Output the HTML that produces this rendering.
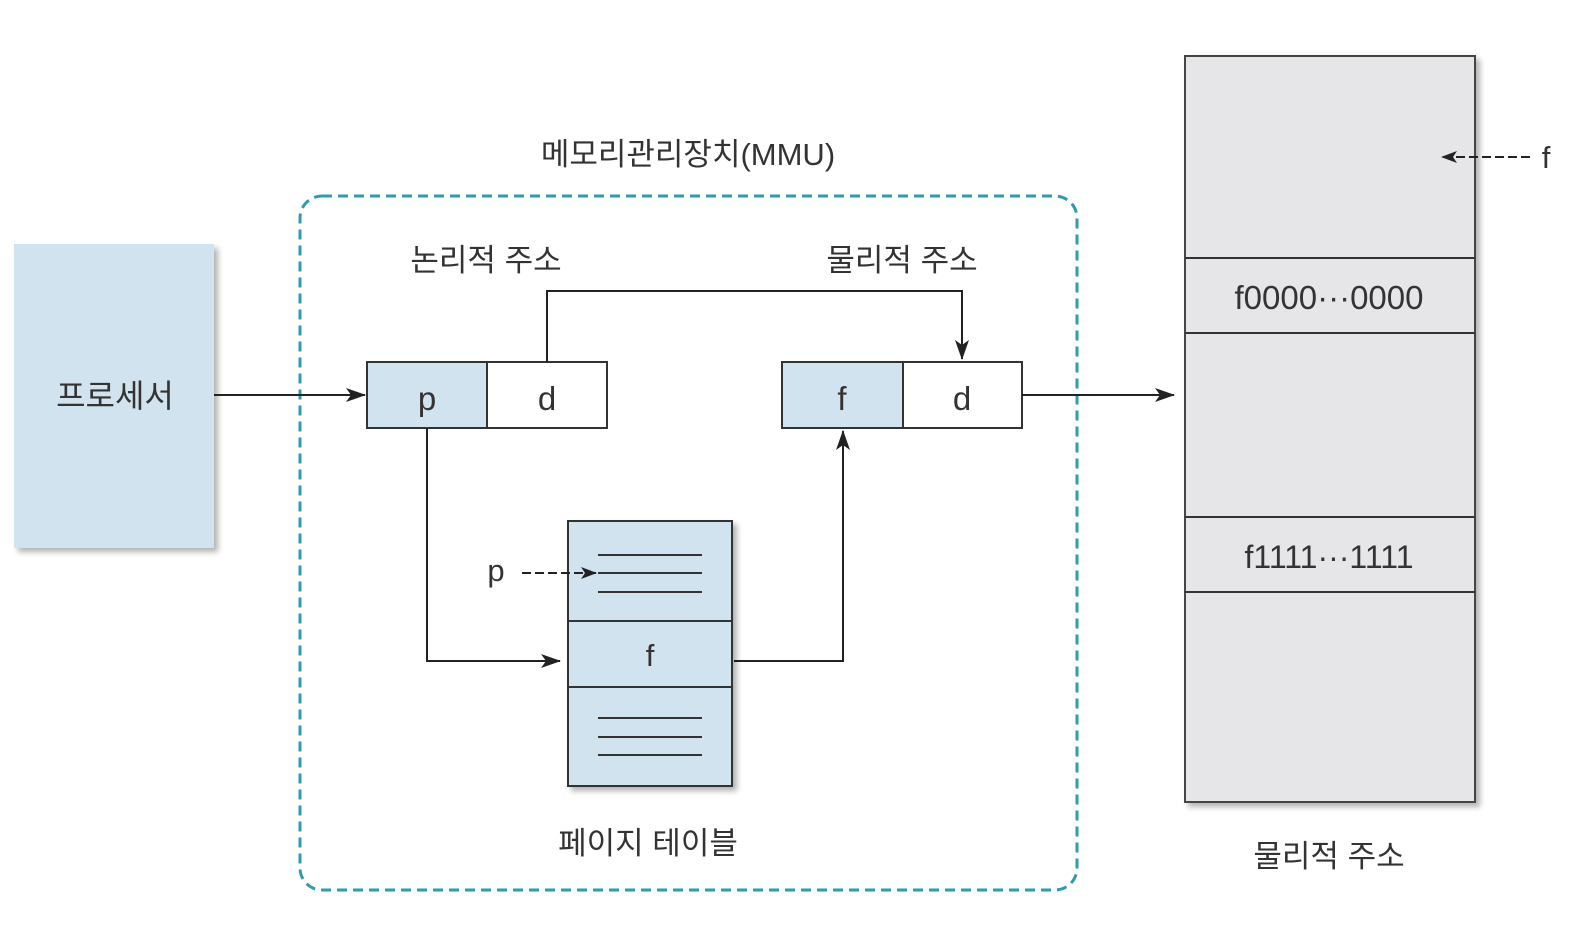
<!DOCTYPE html>
<html><head><meta charset="utf-8"><style>
html,body{margin:0;padding:0;background:#fff;width:1584px;height:930px;overflow:hidden}
text{font-family:"Liberation Sans","Noto Sans CJK KR",sans-serif;fill:#333}
</style></head><body>
<svg width="1584" height="930" viewBox="0 0 1584 930" xmlns="http://www.w3.org/2000/svg">
<defs>
<marker id="a" markerWidth="20" markerHeight="14" refX="19" refY="7" orient="auto" markerUnits="userSpaceOnUse"><path d="M0,0 L20,7 L0,14 L5,7 Z" fill="#222"/></marker>
<marker id="b" markerWidth="16" markerHeight="12" refX="15" refY="6" orient="auto" markerUnits="userSpaceOnUse"><path d="M0,0 L16,6 L0,12 L4,6 Z" fill="#222"/></marker>
<filter id="s" x="-10%" y="-10%" width="130%" height="130%"><feDropShadow dx="4" dy="4" stdDeviation="3" flood-color="#000" flood-opacity="0.3"/></filter>
</defs>
<!-- processor -->
<rect x="14" y="244" width="200" height="304" fill="#d1e3ee" filter="url(#s)"/>
<text x="115" y="407" font-size="32" text-anchor="middle">프로세서</text>
<!-- MMU -->
<text x="688" y="165" font-size="31" text-anchor="middle">메모리관리장치(MMU)</text>
<rect x="300" y="196" width="777" height="694" rx="22" fill="none" stroke="#2f9bb0" stroke-width="3" stroke-dasharray="10,6"/>
<text x="486" y="271" font-size="31" text-anchor="middle">논리적 주소</text>
<text x="902" y="271" font-size="31" text-anchor="middle">물리적 주소</text>
<!-- logical -->
<rect x="367" y="362" width="120" height="66" fill="#d1e3ee" stroke="#333" stroke-width="2"/>
<rect x="487" y="362" width="120" height="66" fill="#fff" stroke="#333" stroke-width="2"/>
<text x="427" y="410" font-size="33" text-anchor="middle">p</text>
<text x="547" y="410" font-size="33" text-anchor="middle">d</text>
<!-- physical addr -->
<rect x="782" y="362" width="121" height="66" fill="#d1e3ee" stroke="#333" stroke-width="2"/>
<rect x="903" y="362" width="119" height="66" fill="#fff" stroke="#333" stroke-width="2"/>
<text x="842" y="410" font-size="33" text-anchor="middle">f</text>
<text x="962" y="410" font-size="33" text-anchor="middle">d</text>
<!-- arrows -->
<line x1="214" y1="395" x2="365" y2="395" stroke="#222" stroke-width="2" marker-end="url(#a)"/>
<polyline points="547,362 547,291 962,291 962,359" fill="none" stroke="#222" stroke-width="2" marker-end="url(#a)"/>
<polyline points="427,428 427,661 560,661" fill="none" stroke="#222" stroke-width="2" marker-end="url(#a)"/>
<polyline points="734,661 843,661 843,431" fill="none" stroke="#222" stroke-width="2" marker-end="url(#a)"/>
<line x1="1022" y1="395" x2="1174" y2="395" stroke="#222" stroke-width="2" marker-end="url(#a)"/>
<!-- page table -->
<rect x="568" y="521" width="164" height="265" fill="#d1e3ee" stroke="#333" stroke-width="2" filter="url(#s)"/>
<line x1="568" y1="621" x2="732" y2="621" stroke="#333" stroke-width="2"/>
<line x1="568" y1="687" x2="732" y2="687" stroke="#333" stroke-width="2"/>
<g stroke="#333" stroke-width="2">
<line x1="598" y1="555" x2="702" y2="555"/><line x1="598" y1="573" x2="702" y2="573"/><line x1="598" y1="592" x2="702" y2="592"/>
<line x1="598" y1="718" x2="702" y2="718"/><line x1="598" y1="737" x2="702" y2="737"/><line x1="598" y1="755" x2="702" y2="755"/>
</g>
<text x="650" y="666" font-size="31" text-anchor="middle">f</text>
<text x="496" y="581" font-size="31" text-anchor="middle">p</text>
<line x1="522" y1="573" x2="596" y2="573" stroke="#222" stroke-width="2" stroke-dasharray="9,4" marker-end="url(#b)"/>
<text x="648" y="854" font-size="31" text-anchor="middle">페이지 테이블</text>
<!-- memory -->
<rect x="1185" y="56" width="290" height="746" fill="#e6e6e8" stroke="#444" stroke-width="2" filter="url(#s)"/>
<g stroke="#333" stroke-width="2">
<line x1="1185" y1="258" x2="1475" y2="258"/><line x1="1185" y1="333" x2="1475" y2="333"/>
<line x1="1185" y1="517" x2="1475" y2="517"/><line x1="1185" y1="592" x2="1475" y2="592"/>
</g>
<text x="1329" y="309" font-size="33" text-anchor="middle">f0000···0000</text>
<text x="1329" y="568" font-size="32" text-anchor="middle">f1111···1111</text>
<line x1="1530" y1="157" x2="1442" y2="157" stroke="#222" stroke-width="2" stroke-dasharray="9,4" marker-end="url(#b)"/>
<text x="1546" y="168" font-size="31" text-anchor="middle">f</text>
<text x="1329" y="867" font-size="31" text-anchor="middle">물리적 주소</text>
</svg>
</body></html>
